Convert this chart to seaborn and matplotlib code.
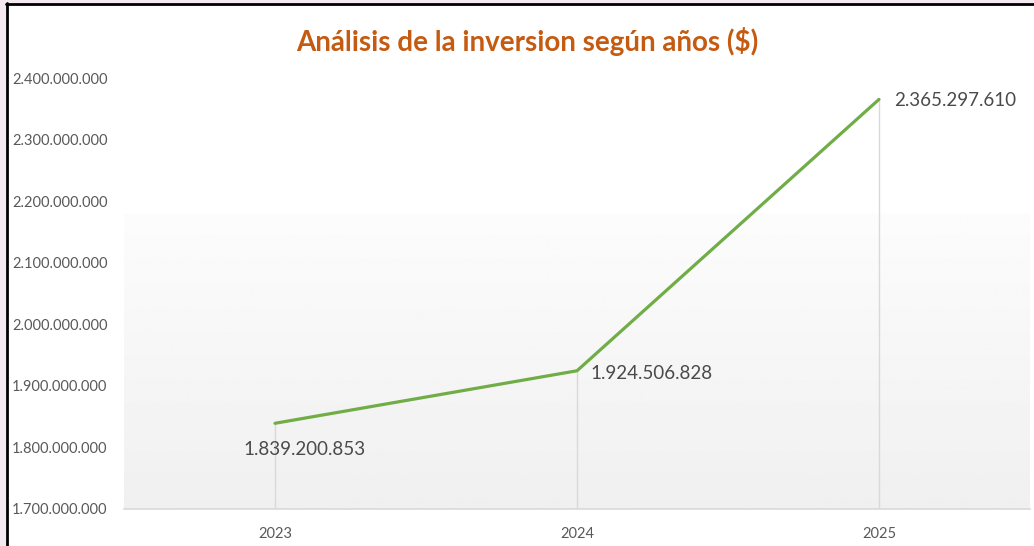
import numpy as np
import pandas as pd
import matplotlib
matplotlib.use("Agg")
import matplotlib.pyplot as plt
from matplotlib.ticker import FuncFormatter
from matplotlib.lines import Line2D
from matplotlib.patches import Rectangle
import seaborn as sns

# Data
years = ["2023", "2024", "2025"]
inversion = [1839200853, 1924506828, 2365297610]
y_ticks = [1700000000, 1800000000, 1900000000, 2000000000,
           2100000000, 2200000000, 2300000000, 2400000000]
title = "Análisis de la inversion según años ($)"

sns.set_theme(style="white")
plt.rcParams["font.family"] = ["Lato", "DejaVu Sans"]

W, H = 1034, 546
fig = plt.figure(figsize=(W / 100, H / 100), dpi=100, facecolor="white")

left_px, right_px, top_px, bottom_px = 124, 1030, 78, 509
ax = fig.add_axes([left_px / W, 1 - bottom_px / H,
                   (right_px - left_px) / W, (bottom_px - top_px) / H])
ax.set_facecolor("none")

def fmt_dots(v):
    return f"{int(round(v)):,}".replace(",", ".")

df = pd.DataFrame({"year": years, "inversion": inversion})
x = np.arange(len(years))

# soft gradient behind the plot area (white on top, light grey at the bottom)
ymin, ymax = y_ticks[0], y_ticks[-1]
grad_start = 2180000000
n = 200
ys = np.linspace(ymin, ymax, n)
vals = np.where(ys > grad_start, 1.0,
                0.94 + (0.988 - 0.94) * (ys - ymin) / (grad_start - ymin))
img = np.repeat(vals[:, None], 2, axis=1)
ax.imshow(img, extent=(-0.5, len(years) - 0.5, ymin, ymax), origin="lower",
          cmap="gray", vmin=0, vmax=1, aspect="auto", zorder=0,
          interpolation="bilinear")

# drop lines from each point down to the category axis
for xi, v in zip(x, inversion):
    ax.plot([xi, xi], [ymin, v], color="#d9d9d9", lw=1.0, zorder=1)

sns.lineplot(x=x, y=df["inversion"], ax=ax, color="#70ad47", lw=2.3,
             zorder=3, legend=False)

ax.set_xlim(-0.5, len(years) - 0.5)
ax.set_ylim(ymin, ymax)
ax.set_xticks(x)
ax.set_xticklabels(years)
ax.set_yticks(y_ticks)
ax.yaxis.set_major_formatter(FuncFormatter(lambda v, p: fmt_dots(v)))
ax.set_xlabel("")
ax.set_ylabel("")

for s in ["top", "right", "left"]:
    ax.spines[s].set_visible(False)
ax.spines["bottom"].set_color("#d9d9d9")
ax.spines["bottom"].set_linewidth(1.2)

ax.tick_params(axis="x", length=0, pad=13, labelsize=10.5, labelcolor="#595959")
ax.tick_params(axis="y", length=0, pad=80.5, labelsize=10.5, labelcolor="#595959")
for lab in ax.get_yticklabels():
    lab.set_horizontalalignment("left")

# value labels
offsets = [(21, -19), (10, -2), (11, -1)]
aligns = ["center", "left", "left"]
for xi, v, off, ha in zip(x, inversion, offsets, aligns):
    ax.annotate(fmt_dots(v), (xi, v), xytext=off, textcoords="offset points",
                ha=ha, va="center", fontsize=13.5, color="#4a4a4a")

fig.text(527 / W, 1 - 41 / H, title, ha="center", va="center",
         fontsize=20, fontweight="bold", color="#c55a11")

# outer frame: tinted margin with a dark border on the top and left
fig.patches.append(Rectangle((0, 0), 6 / W, 1, transform=fig.transFigure,
                             facecolor="#f3e9f1", edgecolor="none", zorder=0))
fig.patches.append(Rectangle((0, 1 - 3 / H), 1, 3 / H, transform=fig.transFigure,
                             facecolor="#f3e9f1", edgecolor="none", zorder=0))
fig.add_artist(Line2D([6.5 / W, 6.5 / W], [0, 1 - 3 / H], transform=fig.transFigure,
                      color="black", lw=2.0))
fig.add_artist(Line2D([6 / W, 1], [1 - 4 / H, 1 - 4 / H], transform=fig.transFigure,
                      color="black", lw=2.0))

fig.savefig("out.png", dpi=100, facecolor=fig.get_facecolor())
